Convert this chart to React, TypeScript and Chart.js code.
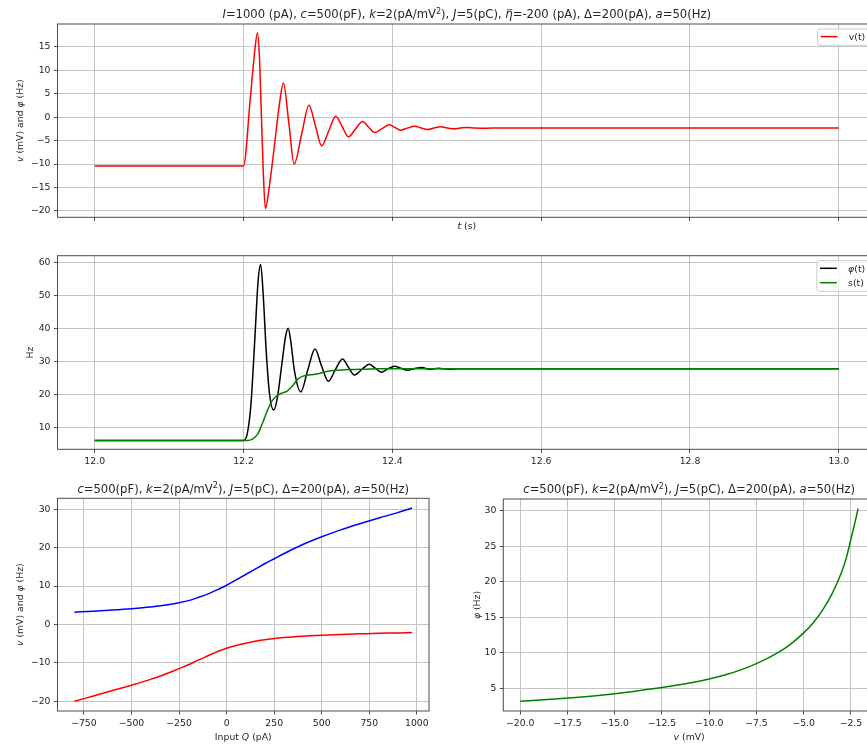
import React, { useEffect, useRef } from 'react';
import { Chart, registerables } from 'chart.js';

Chart.register(...registerables);

const FONT = "'DejaVu Sans', 'Liberation Sans', sans-serif";
const TICK_SIZE = 9.3;
const TITLE_SIZE = 11.6;
const GRID = '#c4c4c4';
const SPINE = '#4d4d4d';
const TEXT = '#262626';

// ---- time traces around the input step at t = 12.2 s
const vTime = [12.0, 12.2, 12.209, 12.215, 12.2187, 12.2215, 12.224, 12.2265, 12.2294, 12.2345, 12.2415, 12.248, 12.2536, 12.261, 12.268, 12.278, 12.288, 12.2965, 12.305, 12.3145, 12.324, 12.3325, 12.341, 12.3505, 12.36, 12.368, 12.376, 12.386, 12.396, 12.4035, 12.411, 12.42, 12.43, 12.4385, 12.447, 12.456, 12.465, 12.474, 12.482, 12.491, 12.5, 12.51, 12.52, 12.55, 12.6, 13.0];
const vTrace = [-10.4, -10.4, 3.8, 14.0, 18.0, 12.5, 0.5, -11.5, -19.5, -15.0, -6.1, 2.5, 7.3, -1.4, -10.0, -3.7, 2.56, -1.8, -6.1, -2.95, 0.2, -2.0, -4.2, -2.55, -0.93, -2.1, -3.3, -2.45, -1.64, -2.2, -2.78, -2.35, -1.92, -2.3, -2.64, -2.33, -2.05, -2.3, -2.5, -2.33, -2.2, -2.3, -2.38, -2.3, -2.33, -2.33];

const phiTime = [12.0, 12.2, 12.205, 12.21, 12.2155, 12.2195, 12.223, 12.2265, 12.2305, 12.235, 12.2406, 12.2455, 12.252, 12.2565, 12.26, 12.2635, 12.2685, 12.277, 12.2865, 12.296, 12.305, 12.314, 12.3235, 12.333, 12.341, 12.349, 12.359, 12.369, 12.377, 12.385, 12.394, 12.403, 12.4115, 12.42, 12.43, 12.44, 12.45, 12.462, 12.475, 12.49, 12.52, 12.6, 13.0];
const phiTrace = [6.0, 6.0, 8.0, 17.0, 38.0, 54.0, 59.3, 50.0, 33.0, 20.0, 15.2, 19.0, 30.0, 37.5, 40.0, 36.0, 27.0, 20.7, 27.5, 33.7, 28.5, 23.95, 27.5, 30.7, 28.2, 25.8, 27.5, 29.1, 27.9, 26.7, 27.7, 28.5, 27.9, 27.3, 27.8, 28.1, 27.55, 27.85, 27.6, 27.75, 27.7, 27.7, 27.7];

const sTime = [12.0, 12.205, 12.212, 12.219, 12.225, 12.231, 12.237, 12.244, 12.251, 12.258, 12.266, 12.273, 12.28, 12.29, 12.3, 12.31, 12.32, 12.335, 12.35, 12.365, 12.38, 12.4, 12.45, 13.0];
const sTrace = [6.0, 6.0, 6.4, 7.9, 11.0, 14.5, 17.5, 19.4, 20.3, 20.9, 22.6, 24.6, 25.5, 25.9, 26.2, 26.8, 27.2, 27.4, 27.5, 27.6, 27.7, 27.7, 27.7, 27.7];

const timeTicks = [12.0, 12.2, 12.4, 12.6, 12.8, 13.0];
const vTicks = [-20, -15, -10, -5, 0, 5, 10, 15];
const hzTicks = [10, 20, 30, 40, 50, 60];

// ---- steady state against the input current
const inputQ = [-800, -700, -600, -500, -400, -300, -250, -200, -150, -100, -50, 0, 50, 100, 150, 200, 250, 300, 400, 500, 600, 700, 800, 900, 975];
const steadyPhi = [3.2, 3.45, 3.75, 4.1, 4.55, 5.2, 5.65, 6.2, 7.0, 7.9, 9.0, 10.2, 11.6, 13.0, 14.4, 15.8, 17.1, 18.4, 20.8, 22.8, 24.6, 26.2, 27.7, 29.1, 30.3];
const steadyV = [-20.0, -18.6, -17.2, -15.8, -14.3, -12.5, -11.5, -10.5, -9.3, -8.2, -7.1, -6.2, -5.5, -4.9, -4.4, -4.0, -3.65, -3.4, -3.05, -2.8, -2.6, -2.45, -2.3, -2.2, -2.1];
const qTicks = [-750, -500, -250, 0, 250, 500, 750, 1000];
const qValueTicks = [-20, -10, 0, 10, 20, 30];

// ---- rate against voltage
const voltage = [-20, -18, -16, -14, -12, -10, -9, -8, -7, -6, -5, -4.5, -4, -3.5, -3, -2.75, -2.5, -2.3, -2.12];
const rate = [3.15, 3.5, 3.95, 4.55, 5.3, 6.3, 7.0, 7.9, 9.1, 10.6, 12.8, 14.2, 16.0, 18.3, 21.3, 23.3, 26.0, 28.2, 30.3];
const voltTicks = [-20, -17.5, -15, -12.5, -10, -7.5, -5, -2.5];
const rateTicks = [5, 10, 15, 20, 25, 30];

// text runs: i = italic (math symbol), sup = superscript, bar = overbar
type Seg = { t: string; i?: boolean; sup?: boolean; bar?: boolean };

const fullTitle: Seg[] = [
  { t: 'I', i: true }, { t: '=1000 (pA), ' },
  { t: 'c', i: true }, { t: '=500(pF), ' },
  { t: 'k', i: true }, { t: '=2(pA/mV' }, { t: '2', sup: true }, { t: '), ' },
  { t: 'J', i: true }, { t: '=5(pC), ' },
  { t: 'η', i: true, bar: true }, { t: '=-200 (pA), Δ=200(pA), ' },
  { t: 'a', i: true }, { t: '=50(Hz)' },
];
const sweepTitle: Seg[] = [
  { t: 'c', i: true }, { t: '=500(pF), ' },
  { t: 'k', i: true }, { t: '=2(pA/mV' }, { t: '2', sup: true }, { t: '), ' },
  { t: 'J', i: true }, { t: '=5(pC), Δ=200(pA), ' },
  { t: 'a', i: true }, { t: '=50(Hz)' },
];
const vPhiLabel: Seg[] = [{ t: 'v', i: true }, { t: ' (mV) and ' }, { t: 'φ', i: true }, { t: ' (Hz)' }];

type Series = { xs: number[]; ys: number[]; color: string; label: Seg[] };
type Panel = {
  left: number; top: number; width: number; height: number;
  area: { left: number; top: number; right: number; bottom: number };
  xRange: [number, number]; yRange: [number, number];
  xTicks: number[]; yTicks: number[]; xDigits: number; yDigits: number;
  showXLabels: boolean;
  series: Series[];
  title: Seg[];
  xTitle?: Seg[]; xTitleY?: number;
  yTitle: Seg[]; yTitleX: number;
  legend?: boolean;
};

const fmt = (v: number, d: number) => (v < 0 ? '\u2212' : '') + Math.abs(v).toFixed(d);

function segFont(s: Seg, size: number) {
  return `${s.i ? 'italic ' : ''}${s.sup ? size * 0.7 : size}px ${FONT}`;
}

function drawRich(ctx: CanvasRenderingContext2D, segs: Seg[], x: number, y: number, size: number, vertical: boolean, align: 'center' | 'left' = 'center') {
  ctx.save();
  ctx.translate(x, y);
  if (vertical) ctx.rotate(-Math.PI / 2);
  const widths = segs.map((s) => {
    ctx.font = segFont(s, size);
    return ctx.measureText(s.t).width;
  });
  const total = widths.reduce((a, b) => a + b, 0);
  let cx = align === 'center' ? -total / 2 : 0;
  ctx.fillStyle = TEXT;
  ctx.strokeStyle = TEXT;
  ctx.textBaseline = 'alphabetic';
  ctx.textAlign = 'left';
  segs.forEach((s, k) => {
    ctx.font = segFont(s, size);
    ctx.fillText(s.t, cx, s.sup ? -size * 0.42 : 0);
    if (s.bar) {
      const by = -size * 0.74;
      ctx.beginPath();
      ctx.lineWidth = size * 0.07;
      ctx.moveTo(cx + widths[k] * 0.2, by);
      ctx.lineTo(cx + widths[k] * 0.95, by);
      ctx.stroke();
    }
    cx += widths[k];
  });
  ctx.restore();
  return total;
}

function richWidth(ctx: CanvasRenderingContext2D, segs: Seg[], size: number) {
  let w = 0;
  segs.forEach((s) => {
    ctx.font = segFont(s, size);
    w += ctx.measureText(s.t).width;
  });
  return w;
}

function makeDecor(p: Panel) {
  return {
    id: 'decor',
    afterDatasetsDraw(chart: Chart) {
      const { ctx, chartArea: a } = chart;
      ctx.save();
      ctx.strokeStyle = SPINE;
      ctx.lineWidth = 1;
      ctx.strokeRect(a.left, a.top, a.right - a.left, a.bottom - a.top);
      ctx.restore();
    },
    afterDraw(chart: Chart) {
      const { ctx, chartArea: a } = chart;
      const cx = (a.left + a.right) / 2;
      drawRich(ctx, p.title, cx, a.top - 5.6, TITLE_SIZE, false);
      if (p.xTitle && p.xTitleY !== undefined) drawRich(ctx, p.xTitle, cx, p.xTitleY + 3, TICK_SIZE, false);
      drawRich(ctx, p.yTitle, p.yTitleX + 3, (a.top + a.bottom) / 2, TICK_SIZE, true);
      if (p.legend) {
        const n = p.series.length;
        const textW = Math.max(...p.series.map((s) => richWidth(ctx, s.label, TICK_SIZE)));
        const boxW = textW + 37.5;
        const boxRight = a.right - 4.65;
        const boxLeft = boxRight - boxW;
        const boxTop = a.top + 5;
        const boxH = 14.4 * n + 1.8;
        ctx.save();
        ctx.beginPath();
        ctx.roundRect(boxLeft, boxTop, boxW, boxH, 2.5);
        ctx.fillStyle = 'rgba(255,255,255,0.8)';
        ctx.fill();
        ctx.strokeStyle = '#cccccc';
        ctx.lineWidth = 1;
        ctx.stroke();
        p.series.forEach((s, k) => {
          const ry = boxTop + 7.6 + 14.4 * k;
          ctx.beginPath();
          ctx.moveTo(boxLeft + 3.3, ry);
          ctx.lineTo(boxLeft + 20, ry);
          ctx.strokeStyle = s.color;
          ctx.lineWidth = 1.5;
          ctx.stroke();
          drawRich(ctx, s.label, boxLeft + 31.3, ry + 3.2, TICK_SIZE, false, 'left');
        });
        ctx.restore();
      }
    },
  };
}

const panels: Panel[] = [
  {
    left: 0, top: 0, width: 890, height: 240,
    area: { left: 57.5, top: 24, right: 876, bottom: 217.3 },
    xRange: [11.95, 13.05], yRange: [-21.37, 19.87],
    xTicks: timeTicks, yTicks: vTicks, xDigits: 1, yDigits: 0, showXLabels: false,
    series: [{ xs: vTime, ys: vTrace, color: '#ff0000', label: [{ t: 'v(t)' }] }],
    title: fullTitle,
    xTitle: [{ t: 't', i: true }, { t: ' (s)' }], xTitleY: 226,
    yTitle: vPhiLabel, yTitleX: 20,
    legend: true,
  },
  {
    left: 0, top: 240, width: 890, height: 235,
    area: { left: 57.5, top: 15.7, right: 876, bottom: 209.3 },
    xRange: [11.95, 13.05], yRange: [3.33, 61.97],
    xTicks: timeTicks, yTicks: hzTicks, xDigits: 1, yDigits: 0, showXLabels: true,
    series: [
      { xs: phiTime, ys: phiTrace, color: '#000000', label: [{ t: 'φ', i: true }, { t: '(t)' }] },
      { xs: sTime, ys: sTrace, color: '#008000', label: [{ t: 's(t)' }] },
    ],
    title: [],
    yTitle: [{ t: 'Hz' }], yTitleX: 30,
    legend: true,
  },
  {
    left: 0, top: 475, width: 440, height: 272,
    area: { left: 57.5, top: 23.3, right: 429, bottom: 236 },
    xRange: [-888.75, 1063.75], yRange: [-22.52, 32.82],
    xTicks: qTicks, yTicks: qValueTicks, xDigits: 0, yDigits: 0, showXLabels: true,
    series: [
      { xs: inputQ, ys: steadyPhi, color: '#0000ff', label: [{ t: 'φ' }] },
      { xs: inputQ, ys: steadyV, color: '#ff0000', label: [{ t: 'v' }] },
    ],
    title: sweepTitle,
    xTitle: [{ t: 'Input ' }, { t: 'Q', i: true }, { t: ' (pA)' }], xTitleY: 261.7,
    yTitle: vPhiLabel, yTitleX: 20,
  },
  {
    left: 440, top: 475, width: 450, height: 272,
    area: { left: 63.3, top: 24, right: 435, bottom: 236 },
    xRange: [-20.894, -1.226], yRange: [1.79, 31.66],
    xTicks: voltTicks, yTicks: rateTicks, xDigits: 1, yDigits: 0, showXLabels: true,
    series: [{ xs: voltage, ys: rate, color: '#008000', label: [{ t: 'φ' }] }],
    title: sweepTitle,
    xTitle: [{ t: 'v', i: true }, { t: ' (mV)' }], xTitleY: 261.7,
    yTitle: [{ t: 'φ', i: true }, { t: ' (Hz)' }], yTitleX: 36.7,
  },
];

function PanelChart({ p }: { p: Panel }) {
  const ref = useRef<HTMLCanvasElement | null>(null);
  useEffect(() => {
    if (!ref.current) return;
    const tickFont = { family: FONT, size: TICK_SIZE };
    const grid = { color: GRID, lineWidth: 1, drawTicks: true, tickLength: 3.5, tickColor: SPINE, tickWidth: 1 };
    const chart = new Chart(ref.current, {
      type: 'line',
      data: {
        datasets: [...p.series].reverse().map((s) => ({
          label: s.label.map((g) => g.t).join(''),
          data: s.xs.map((x, i) => ({ x, y: s.ys[i] })),
          borderColor: s.color,
          backgroundColor: s.color,
          borderWidth: 1.5,
          pointRadius: 0,
          pointHoverRadius: 0,
          cubicInterpolationMode: 'monotone' as const,
          fill: false,
        })),
      },
      options: {
        responsive: false,
        animation: false,
        devicePixelRatio: 1,
        events: [],
        layout: { padding: { left: 0, top: p.area.top, right: p.width - p.area.right, bottom: 0 } },
        plugins: { legend: { display: false }, tooltip: { enabled: false }, title: { display: false } },
        scales: {
          x: {
            type: 'linear',
            min: p.xRange[0],
            max: p.xRange[1],
            afterBuildTicks: (s: any) => { s.ticks = p.xTicks.map((value) => ({ value })); },
            afterFit: (s: any) => { s.height = p.height - p.area.bottom; },
            ticks: {
              display: p.showXLabels,
              font: tickFont,
              color: TEXT,
              padding: 3.5,
              maxRotation: 0,
              autoSkip: false,
              callback: (v: any) => fmt(Number(v), p.xDigits),
            },
            grid,
            border: { display: false },
          },
          y: {
            type: 'linear',
            min: p.yRange[0],
            max: p.yRange[1],
            afterBuildTicks: (s: any) => { s.ticks = p.yTicks.map((value) => ({ value })); },
            afterFit: (s: any) => { s.width = p.area.left; },
            ticks: {
              font: tickFont,
              color: TEXT,
              padding: 3.5,
              autoSkip: false,
              callback: (v: any) => fmt(Number(v), p.yDigits),
            },
            grid,
            border: { display: false },
          },
        },
      },
      plugins: [makeDecor(p)],
    } as any);
    return () => chart.destroy();
  }, [p]);
  return (
    <canvas
      ref={ref}
      width={p.width}
      height={p.height}
      style={{ position: 'absolute', left: p.left, top: p.top, width: p.width, height: p.height }}
    />
  );
}

export default function App() {
  return (
    <div style={{ position: 'fixed', left: 0, top: 0, width: 867, height: 747, overflow: 'hidden', background: '#ffffff' }}>
      {panels.map((p, i) => (
        <PanelChart key={i} p={p} />
      ))}
    </div>
  );
}
